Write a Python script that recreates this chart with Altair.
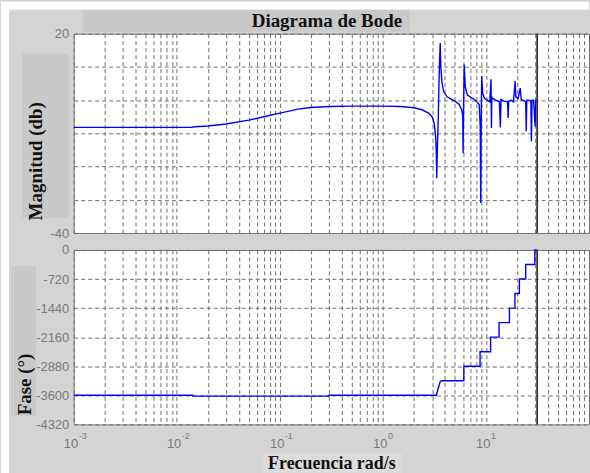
import altair as alt
import pandas as pd

# ---------------- data ----------------
mag_freq = [0.001, 0.005, 0.0135, 0.015, 0.02, 0.03, 0.05, 0.07, 0.1, 0.15, 0.2, 0.3, 0.5, 1.0,
            1.5, 2.0, 2.4, 2.8, 3.0, 3.15, 3.25, 3.3, 3.33, 3.38, 3.45, 3.5, 3.55, 3.6, 3.65, 3.75,
            3.9, 4.2, 4.6, 5.0, 5.5, 5.8, 5.95, 6.0, 6.05, 6.15, 6.3, 6.6, 7.2, 8.0, 8.6, 8.8,
            8.9, 9.0, 9.1, 9.3, 9.7, 10.3, 10.9, 11.2, 11.3, 11.4, 11.6, 12.5, 13.5, 13.8, 14.0,
            15.0, 16.2, 16.4, 16.6, 17.5, 18.5, 19.2, 19.5, 20.5, 21.5, 22.0, 23.0, 24.3, 24.6,
            24.9, 26.0, 27.3, 27.6, 28.0, 29.0, 30.0, 30.4, 31.4]
mag_db = [-8.2, -8.2, -8.2, -8.0, -7.8, -7.2, -6.0, -5.0, -3.9, -2.7, -2.2, -1.9, -1.8, -1.8,
          -1.9, -2.3, -2.9, -4.0, -5.0, -7.0, -11.0, -16.0, -23.5, -14.0, -5.0, 5.0, 12.0, 17.2, 10.0, 5.0,
          2.5, 1.0, 0.3, -0.3, -1.3, -2.8, -4.5, -16.0, -5.0, 10.7, 4.0, 1.5, 0.8, -0.2, -1.3, -8.0,
          -31.0, -5.0, 7.2, 2.0, 0.5, 0.0, -0.5, 6.3, -8.4, 1.0, 0.5, 0.0, -0.5, -8.2, 0.2,
          -0.3, -0.5, -5.4, -0.5, 0.0, -0.5, 5.7, 1.0, 0.5, 3.6, 0.0, 0.0, -0.5, -9.4,
          0.0, 0.0, -0.3, -12.4, 0.0, 0.0, -7.9, 0.0, 0.0]

phase_freq = [0.001, 0.0143, 0.0143, 0.3, 0.3, 3.3, 3.45, 3.6, 3.7, 6.1, 6.1, 8.77, 8.77,
              11.1, 11.1, 13.4, 13.4, 16.9, 16.9, 19.1, 19.1, 21.1, 21.1, 24.3, 24.3, 29.8, 29.8, 31.4]
phase_deg = [-3600, -3600, -3620, -3620, -3600, -3600, -3420, -3260, -3240, -3240, -2880, -2880, -2520,
             -2520, -2160, -2160, -1800, -1800, -1440, -1440, -1080, -1080, -720, -720, -360, -360, 0, 0]

# decade labels (the 10^2 label falls on the cut right edge of the picture)
decade_freq = [0.001, 0.01, 0.1, 1, 10]
decade_base = ["10", "10", "10", "10", "10"]
decade_exp = ["-3", "-2", "-1", "0", "1"]
mag_ticks = [-40, -30, -20, -10, 0, 10, 20]
phase_ticks = [-4320, -3600, -2880, -2160, -1440, -720, 0]
grid_freq = [k * 10.0 ** e for e in range(-3, 2) for k in range(1, 10)] + [100.0]
nyquist = [31.4]

title_text = "Diagrama de Bode"
mag_label = "Magnitud (db)"
phase_label = "Fase (°)"
x_label = "Frecuencia rad/s"

# ---------------- style ----------------
W, H1, H2 = 517, 200, 175
BG = "#d4d4d4"
BOX = "#c9c9c9"
BOX2 = "#dcdcdc"
GRID = "#6e6e6e"
LAB = "#7a7a7a"
SERIF = "Liberation Serif"
SANS = "Liberation Sans"

mag_df = pd.DataFrame({"f": mag_freq, "v": mag_db, "i": range(len(mag_freq))})
ph_df = pd.DataFrame({"f": phase_freq, "v": phase_deg, "i": range(len(phase_freq))})
dec_df = pd.DataFrame({"f": decade_freq, "b": decade_base, "e": decade_exp})
ny_df = pd.DataFrame({"f": nyquist})
one = alt.Data(values=[{}])

xscale = alt.Scale(type="log", domain=[0.001, 100])


def xaxis():
    return alt.Axis(values=grid_freq, labels=False, ticks=False, domain=False, grid=True,
                    gridDash=[4, 3], gridColor=GRID, gridOpacity=1, gridWidth=1, title=None)


def box(x, x2, y, y2, color):
    return alt.Chart(one).mark_rect(color=color).encode(
        x=alt.value(x), x2=alt.value(x2), y=alt.value(y), y2=alt.value(y2))


def label(text, x, y, angle=0, size=19, baseline="alphabetic"):
    return alt.Chart(one).mark_text(text=text, font=SERIF, fontWeight="bold", fontSize=size,
                                    color="#111111", angle=angle, align="center",
                                    baseline=baseline).encode(x=alt.value(x), y=alt.value(y))


# ---------------- top panel ----------------
white_top = box(-73, W, -32, -24, "white")
white_left = box(-73, -65, -32, 441, "white")
title_box = box(9, 337, -24, -2, BOX)
mag_box = box(-52, -5, 20, 185, BOX)

mag_line = alt.Chart(mag_df).mark_line(color="#0000ff", strokeWidth=1.4).encode(
    x=alt.X("f:Q", scale=xscale, axis=xaxis()),
    y=alt.Y("v:Q", scale=alt.Scale(domain=[-40, 20], nice=False),
            axis=alt.Axis(values=mag_ticks, grid=True, gridDash=[4, 3], gridColor=GRID,
                          gridOpacity=1, ticks=False, domain=False, labelPadding=5,
                          labelFont=SANS, labelFontSize=13, labelColor=LAB,
                          labelExpr="datum.value == 20 ? '20' : (datum.value == -40 ? '-40' : '')",
                          title=None)),
    order="i:Q")

ny_top = alt.Chart(ny_df).mark_rule(color="#333333", strokeWidth=1.8).encode(
    x=alt.X("f:Q", scale=xscale, axis=xaxis()))

top = alt.layer(
    white_top, white_left, title_box, mag_box, mag_line, ny_top,
    label(title_text, 254, -7),
    label(mag_label, -38, 128, angle=270, baseline="middle"),
).properties(width=W, height=H1)

# ---------------- bottom panel ----------------
fase_box = box(-63, -38, 16, 166, BOX)
frec_box = box(190, 329, 204, 224, BOX2)

ph_line = alt.Chart(ph_df).mark_line(color="#0000ff", strokeWidth=1.4).encode(
    x=alt.X("f:Q", scale=xscale, axis=xaxis()),
    y=alt.Y("v:Q", scale=alt.Scale(domain=[-4320, 0], nice=False),
            axis=alt.Axis(values=phase_ticks, grid=True, gridDash=[4, 3], gridColor=GRID,
                          gridOpacity=1, ticks=False, domain=False, labelPadding=5,
                          labelFont=SANS, labelFontSize=13, labelColor=LAB,
                          labelExpr="'' + datum.value", title=None)),
    order="i:Q")

ny_bot = alt.Chart(ny_df).mark_rule(color="#333333", strokeWidth=1.8).encode(
    x=alt.X("f:Q", scale=xscale, axis=xaxis()))

base_txt = alt.Chart(dec_df).mark_text(font=SANS, fontSize=13, color=LAB, align="right",
                                       baseline="alphabetic", dx=4.5).encode(
    x=alt.X("f:Q", scale=xscale, axis=xaxis()), y=alt.value(199), text="b:N")
exp_txt = alt.Chart(dec_df).mark_text(font=SANS, fontSize=9, color=LAB, align="left",
                                      baseline="alphabetic", dx=5).encode(
    x=alt.X("f:Q", scale=xscale, axis=xaxis()), y=alt.value(190), text="e:N")

bottom = alt.layer(
    fase_box, frec_box, ph_line, ny_bot, base_txt, exp_txt,
    label(phase_label, -49, 135, angle=270, baseline="middle"),
    label(x_label, 259, 220, size=18),
).properties(width=W, height=H2)

chart = alt.vconcat(top, bottom, spacing=17, bounds="flush").properties(
    background=BG, padding=0
).configure_view(fill="white", stroke="#7a7a7a", strokeWidth=1)

chart.save("out.html", embed_options={"renderer": "svg", "actions": False})
